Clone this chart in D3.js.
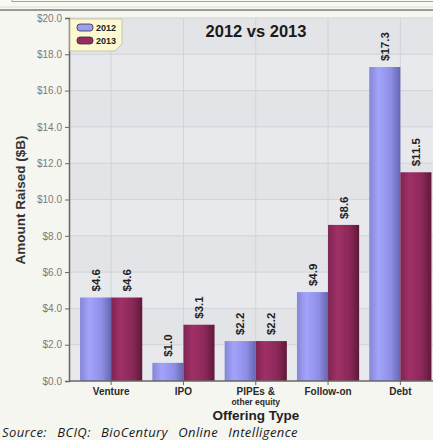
<!DOCTYPE html>
<html>
<head>
<meta charset="utf-8">
<script src="https://cdn.jsdelivr.net/npm/d3@7/dist/d3.min.js"></script>
<style>
  body { margin: 0; background: #f6f6f1; }
  svg { display: block; }
</style>
</head>
<body>
<div id="chart"></div>
<script>
// data
var categories = ["Venture", "IPO", "PIPEs &\nother equity", "Follow-on", "Debt"]
var years = ["2012", "2013"]
var values2012 = [4.6, 1.0, 2.2, 4.9, 17.3]
var values2013 = [4.6, 3.1, 2.2, 8.6, 11.5]
var yTicks = [0, 2, 4, 6, 8, 10, 12, 14, 16, 18, 20]

var width = 433
var height = 440

var svg = d3.select("#chart")
  .append("svg")
    .attr("width", width)
    .attr("height", height)

var defs = svg.append("defs")

// horizontal gradients give the bars their cylinder look
function barGradient(id, stops) {
  var g = defs.append("linearGradient").attr("id", id)
    .attr("x1", "0%").attr("x2", "100%").attr("y1", "0%").attr("y2", "0%")
  stops.forEach(function(s) {
    g.append("stop").attr("offset", s[0]).attr("stop-color", s[1])
  })
}
barGradient("g2012", [["0%", "#8686d6"], ["30%", "#a3a3fb"], ["70%", "#8e8ee6"], ["100%", "#6666b0"]])
barGradient("g2013", [["0%", "#7e2452"], ["30%", "#a03068"], ["70%", "#8a2858"], ["100%", "#5e1838"]])

var fills = { "2012": "url(#g2012)", "2013": "url(#g2013)" }
var swatch = { "2012": "#9d9df4", "2013": "#962c60" }

// top frame strip
svg.append("rect").attr("x", 0).attr("y", 0).attr("width", width).attr("height", 10).attr("fill", "#f9f9f3")
svg.append("line").attr("x1", 12).attr("x2", width).attr("y1", 1.5).attr("y2", 1.5).attr("stroke", "#a0a0a0")
svg.append("line").attr("x1", 12).attr("x2", 12).attr("y1", 0).attr("y2", 1.5).attr("stroke", "#a0a0a0")
svg.append("line").attr("x1", 0).attr("x2", width).attr("y1", 7).attr("y2", 7).attr("stroke", "#dcdcd4")
svg.append("line").attr("x1", 0).attr("x2", width).attr("y1", 10).attr("y2", 10).attr("stroke", "#7a7a7a").attr("stroke-width", 1.5)

// scales
var x0 = d3.scaleBand()
  .domain(categories)
  .range([75, 436.5])
  .paddingInner(0.14)
  .paddingOuter(0.07)

var x1 = d3.scaleBand()
  .domain(years)
  .range([0, x0.bandwidth()])

var y = d3.scaleLinear()
  .domain([0, 20])
  .range([381, 18])

var plotLeft = 69
var plotRight = width

// plot background with alternating bands
svg.append("rect")
  .attr("x", plotLeft).attr("y", y(20))
  .attr("width", plotRight - plotLeft).attr("height", y(0) - y(20))
  .attr("fill", "#e8e9ed")

svg.selectAll(".band")
  .data(yTicks.filter(function(d, i) { return i % 2 == 1 && d < 20 }))
  .enter().append("rect")
    .attr("x", plotLeft)
    .attr("y", function(d) { return y(d + 2) })
    .attr("width", plotRight - plotLeft)
    .attr("height", function(d) { return y(d) - y(d + 2) })
    .attr("fill", "#e3e4e7")

// gridlines
svg.selectAll(".hgrid")
  .data(yTicks.slice(1))
  .enter().append("line")
    .attr("x1", plotLeft).attr("x2", plotRight)
    .attr("y1", function(d) { return y(d) }).attr("y2", function(d) { return y(d) })
    .attr("stroke", "#d2d3d8")

svg.selectAll(".vgrid")
  .data(categories)
  .enter().append("line")
    .attr("x1", function(d) { return x0(d) + x0.bandwidth() / 2 })
    .attr("x2", function(d) { return x0(d) + x0.bandwidth() / 2 })
    .attr("y1", y(20)).attr("y2", y(0))
    .attr("stroke", "#d2d3d8")

// bars
var rows = categories.map(function(c, i) {
  return { cat: c, vals: [{ year: "2012", v: values2012[i] }, { year: "2013", v: values2013[i] }] }
})

var groups = svg.selectAll(".grp")
  .data(rows)
  .enter().append("g")
    .attr("transform", function(d) { return "translate(" + x0(d.cat) + ",0)" })

groups.selectAll("rect")
  .data(function(d) { return d.vals })
  .enter().append("rect")
    .attr("x", function(d) { return x1(d.year) })
    .attr("y", function(d) { return y(d.v) })
    .attr("width", x1.bandwidth())
    .attr("height", function(d) { return y(0) - y(d.v) })
    .attr("fill", function(d) { return fills[d.year] })

groups.selectAll("text")
  .data(function(d) { return d.vals })
  .enter().append("text")
    .attr("transform", function(d) {
      return "translate(" + (x1(d.year) + x1.bandwidth() / 2 + 4) + "," + (y(d.v) - 6) + ") rotate(-90)"
    })
    .attr("font-family", "Liberation Sans, Arial, sans-serif")
    .attr("font-size", "11.5px")
    .attr("font-weight", "bold")
    .attr("fill", "#1e1e1e")
    .text(function(d) { return "$" + d.v.toFixed(1) })

// axes
var yAxis = svg.append("g")
  .attr("transform", "translate(" + plotLeft + ",0)")
  .call(d3.axisLeft(y).tickValues(yTicks).tickSize(4).tickPadding(3)
    .tickFormat(function(d) { return "$" + d.toFixed(1) }))
yAxis.select(".domain").attr("stroke", "#666").attr("stroke-width", 1.5)
yAxis.selectAll(".tick line").attr("stroke", "#666")
yAxis.selectAll(".tick text")
  .attr("font-family", "Liberation Sans, Arial, sans-serif")
  .attr("font-size", "10px")
  .attr("fill", "#7a7a7a")

var xAxis = svg.append("g")
  .attr("transform", "translate(0," + y(0) + ")")
  .call(d3.axisBottom(x0).tickSize(4).tickSizeOuter(0).tickFormat(""))
xAxis.select(".domain").attr("stroke", "#666").attr("stroke-width", 1.5)
  .attr("d", "M" + plotLeft + ",0H" + plotRight)
xAxis.selectAll(".tick line").attr("stroke", "#666")

xAxis.selectAll(".tick").each(function(d) {
  var lines = d.split("\n")
  var t = d3.select(this).append("text")
    .attr("text-anchor", "middle")
    .attr("font-family", "Liberation Sans, Arial, sans-serif")
    .attr("font-weight", "bold")
    .attr("fill", "#2a2a2a")
  lines.forEach(function(l, i) {
    t.append("tspan")
      .attr("x", 0)
      .attr("y", 13.5 + i * 10)
      .attr("font-size", i == 0 ? "10px" : "8.5px")
      .text(l)
  })
})

// titles
svg.append("text")
  .attr("x", 256).attr("y", 37)
  .attr("text-anchor", "middle")
  .attr("font-family", "Liberation Sans, Arial, sans-serif")
  .attr("font-size", "16.5px")
  .attr("font-weight", "bold")
  .attr("fill", "#1a1a1a")
  .text("2012 vs 2013")

svg.append("text")
  .attr("transform", "translate(25,200) rotate(-90)")
  .attr("text-anchor", "middle")
  .attr("font-family", "Liberation Sans, Arial, sans-serif")
  .attr("font-size", "13.5px")
  .attr("font-weight", "bold")
  .attr("fill", "#333")
  .text("Amount Raised ($B)")

svg.append("text")
  .attr("x", 256).attr("y", 419.5)
  .attr("text-anchor", "middle")
  .attr("font-family", "Liberation Sans, Arial, sans-serif")
  .attr("font-size", "13.5px")
  .attr("font-weight", "bold")
  .attr("fill", "#222")
  .text("Offering Type")

svg.append("text")
  .attr("x", 2).attr("y", 437)
  .attr("font-family", "Open Sans, sans-serif")
  .attr("font-size", "13px")
  .attr("font-style", "italic")
  .attr("word-spacing", "6.5px")
  .attr("letter-spacing", "0.4px")
  .attr("fill", "#1a1a1a")
  .text("Source:  BCIQ:  BioCentury  Online  Intelligence")

// legend
var legend = svg.append("g")
legend.append("path")
  .attr("d", "M70,19H122V44L115,51H70Z")
  .attr("fill", "#fcf9d2")
  .attr("stroke", "#c9c7a8")

years.forEach(function(yr, i) {
  legend.append("rect")
    .attr("x", 77).attr("y", 24 + i * 13)
    .attr("width", 16).attr("height", 7)
    .attr("rx", 3)
    .attr("fill", swatch[yr])
    .attr("stroke", "#333")
    .attr("stroke-width", 0.8)
  legend.append("text")
    .attr("x", 96).attr("y", 31 + i * 13)
    .attr("font-family", "Liberation Sans, Arial, sans-serif")
    .attr("font-size", "9px")
    .attr("font-weight", "bold")
    .attr("fill", "#222")
    .text(yr)
})
</script>
</body>
</html>
